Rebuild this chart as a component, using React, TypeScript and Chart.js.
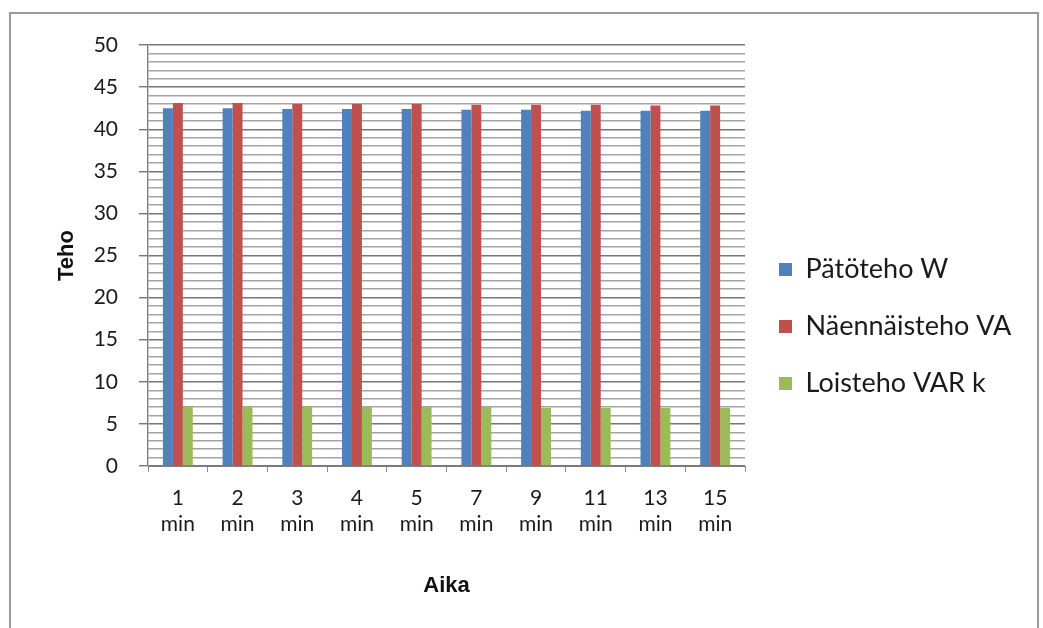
import React, { useEffect, useRef } from 'react';
import { Chart, registerables } from 'chart.js';

Chart.register(...registerables);

// Measurement times (minutes) along the category axis
const minutes = ['1', '2', '3', '4', '5', '7', '9', '11', '13', '15'];
const unitLabel = 'min';

// Power readings per measurement time
const activePowerW = [42.5, 42.5, 42.4, 42.4, 42.4, 42.3, 42.3, 42.2, 42.2, 42.2];
const apparentPowerVA = [43.1, 43.1, 43.0, 43.0, 43.0, 42.9, 42.9, 42.9, 42.8, 42.8];
const reactivePowerVAR = [7.1, 7.1, 7.1, 7.0, 7.0, 7.0, 6.9, 6.9, 6.9, 6.9];

const seriesNames = ['Pätöteho W', 'Näennäisteho VA', 'Loisteho VAR k'];
const seriesColors = ['#4F81BD', '#C0504D', '#9BBB59'];

// Value axis: 0..50, labelled every 5, minor lines every 1
const yMin = 0;
const yMax = 50;
const yLabelStep = 5;
const yMinorStep = 1;

const xTitle = 'Aika';
const yTitle = 'Teho';

const W = 1043;
const H = 628;
const PAD_LEFT = 40;
const PAD_TOP = 45;
const PAD_BOTTOM = 20;
const PLOT_LEFT = 148;
const PLOT_RIGHT = 745;
const PLOT_BOTTOM = 466;
const LEGEND_GAP = 4;
const LEGEND_FONT = 27;
const LEGEND_PAD = 30;
const LEGEND_BOX = 13;

const labelFont = 'Lato, "Noto Sans", sans-serif';
const titleFont = '"Liberation Sans", Arial, sans-serif';

export default function App() {
  const canvasRef = useRef<HTMLCanvasElement | null>(null);

  useEffect(() => {
    const canvas = canvasRef.current;
    if (!canvas) return;

    // Width of the legend column so the plot ends where intended
    const mctx = canvas.getContext('2d')!;
    mctx.font = `${LEGEND_FONT}px ${labelFont}`;
    const textW = Math.max(...seriesNames.map((n) => mctx.measureText(n).width));
    const legendW = LEGEND_PAD + LEGEND_BOX + LEGEND_FONT / 2 + textW + 10;
    const padRight = Math.max(0, W - PLOT_RIGHT - LEGEND_GAP - legendW);

    const isMajor = (v: number) => Math.abs(v % yLabelStep) < 1e-9;

    const chart = new Chart(canvas, {
      type: 'bar',
      data: {
        labels: minutes.map((m) => [m, unitLabel]),
        datasets: [activePowerW, apparentPowerVA, reactivePowerVAR].map((values, i) => ({
          label: seriesNames[i],
          data: values,
          backgroundColor: seriesColors[i],
          borderWidth: 0,
          categoryPercentage: 0.5,
          barPercentage: 1.0,
        })),
      },
      options: {
        responsive: false,
        animation: false,
        layout: {
          padding: { left: PAD_LEFT, top: PAD_TOP, bottom: PAD_BOTTOM, right: padRight },
        },
        plugins: {
          tooltip: { enabled: false },
          legend: {
            position: 'right',
            align: 'center',
            maxWidth: 500,
            labels: {
              color: '#1a1a1a',
              font: { family: labelFont, size: LEGEND_FONT },
              boxWidth: LEGEND_BOX,
              boxHeight: LEGEND_BOX,
              padding: LEGEND_PAD,
            },
          },
        },
        scales: {
          x: {
            offset: true,
            grid: {
              display: true,
              offset: true,
              drawOnChartArea: false,
              drawTicks: true,
              tickLength: 6,
              tickColor: '#8c8c8c',
            },
            border: { display: true, color: '#7f7f7f', width: 1 },
            ticks: {
              color: '#1a1a1a',
              font: { family: labelFont, size: 21, lineHeight: 1.24 },
              padding: 13,
              maxRotation: 0,
              autoSkip: false,
            },
            title: {
              display: true,
              text: xTitle,
              color: '#111',
              font: { family: titleFont, size: 22, weight: 'bold' },
              padding: { top: 0, bottom: 9 },
            },
            afterFit: (s: any) => {
              s.height = H - PAD_BOTTOM - PLOT_BOTTOM;
            },
          },
          y: {
            min: yMin,
            max: yMax,
            grid: {
              color: (c: any) => (isMajor(c.tick.value) ? '#777777' : '#a4a4a4'),
              lineWidth: 1.4,
              tickColor: (c: any) => (isMajor(c.tick.value) ? '#777777' : 'rgba(0,0,0,0)'),
              tickLength: 9,
            },
            border: { display: true, color: '#7f7f7f', width: 1.4 },
            ticks: {
              stepSize: yMinorStep,
              autoSkip: false,
              color: '#1a1a1a',
              font: { family: labelFont, size: 21 },
              padding: 21,
              callback: (v: any) => (isMajor(Number(v)) ? String(v) : ''),
            },
            title: {
              display: true,
              text: yTitle,
              color: '#111',
              font: { family: titleFont, size: 22, weight: 'bold' },
              padding: { top: 14, bottom: 0 },
            },
            afterFit: (s: any) => {
              s.width = PLOT_LEFT - PAD_LEFT;
            },
          },
          legendGap: {
            type: 'linear',
            position: 'right',
            display: true,
            grid: { display: false, drawTicks: false },
            border: { display: false },
            ticks: { display: false },
            afterFit: (s: any) => {
              s.width = LEGEND_GAP;
            },
          },
        },
      } as any,
    });

    return () => chart.destroy();
  }, []);

  return (
    <div style={{ position: 'fixed', left: 0, top: 0, width: W, height: H, background: '#fff', overflow: 'hidden' }}>
      <canvas ref={canvasRef} width={W} height={H} style={{ display: 'block' }} />
      <div
        style={{
          position: 'absolute',
          left: 9,
          top: 12,
          width: 1030,
          height: 700,
          border: '2px solid #9a9a9a',
          boxSizing: 'border-box',
          pointerEvents: 'none',
        }}
      />
    </div>
  );
}
